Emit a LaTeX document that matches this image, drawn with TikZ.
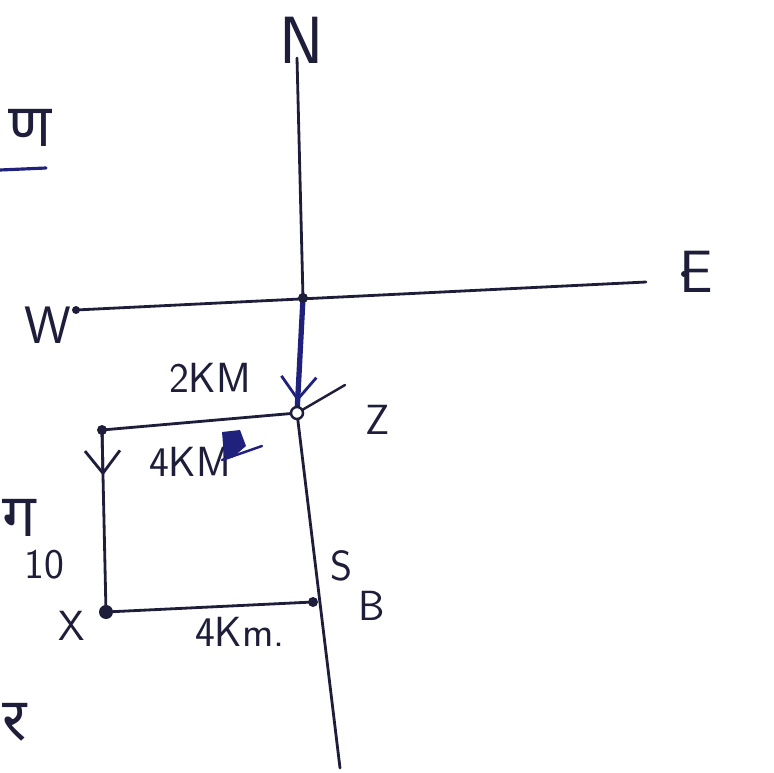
\documentclass[tikz,border=0pt]{standalone}
\usepackage{fontspec}
\newfontfamily\devfont[Script=Devanagari]{Noto Sans}
\usetikzlibrary{arrows.meta,calc}
\definecolor{ink}{RGB}{30,30,58}
\definecolor{pen}{RGB}{32,32,125}

\begin{document}
\begin{tikzpicture}[x=0.02cm,y=-0.02cm,line cap=round,
  hand/.style={font=\sffamily\fontsize{24}{24}\selectfont,text=ink,inner sep=0pt},
  dev/.style={font=\devfont\fontsize{34}{34}\selectfont,text=ink,inner sep=0pt},
  road/.style={draw=ink,line width=1.6pt},
  barb/.style={-{Straight Barb[length=4.5mm,width=7mm,line width=1.6pt]}}]
\useasboundingbox (0,0) rectangle (774,773);
% ---- compass points ----
\coordinate (Ntop) at (297,58);
\coordinate (O) at (303,298);
\coordinate (Sbot) at (340,768);
\coordinate (Wend) at (76,310);
\coordinate (Eend) at (646,282);
% ---- walk corners ----
\coordinate (Z) at (297,413);
\coordinate (A) at (102,430);
\coordinate (X) at (106,612);
\coordinate (B) at (313,602);
% ---- axes ----
\draw[road] (Ntop) -- (O);
\draw[road] (Wend) -- (Eend);
\draw[road] (Z) -- (Sbot);
\fill[ink] (Wend) circle (4);
\fill[ink] (Eend) ++(38,-8) circle (3);
% ---- path of the walk ----
\draw[draw=pen,line width=3pt] (O) -- (Z);
\draw[draw=pen,line width=1.6pt,barb] (O) -- ($(O)!0.9!(Z)$);
\draw[road] (Z) -- (A) -- (X) -- (B);
\draw[road,barb] (A) -- ($(A)!0.25!(X)$);
\draw[draw=ink,line width=1.4pt] (Z) -- (345,385);
\fill[ink] (O) circle (5);
\draw[draw=ink,line width=1.4pt,fill=white] (Z) circle (6);
\fill[ink] (A) circle (5);
\fill[ink] (X) circle (7);
\fill[ink] (B) circle (5);
% ---- labels ----
\node[hand,font=\sffamily\fontsize{38}{38}\selectfont] (nN) at (302,40) {N};
\node[hand,font=\sffamily\fontsize{34}{34}\selectfont] (nE) at (696,272) {E};
\node[hand,font=\sffamily\fontsize{30}{30}\selectfont] (nW) at (48,325) {W};
\node[hand] (n2km) at (210,378) {2KM};
\node[hand] (nZ) at (378,420) {Z};
\node[hand] (n4kmA) at (190,462) {4KM};
\node[hand] (n10) at (44,565) {10};
\node[hand] (nX) at (72,626) {X};
\node[hand] (nS) at (342,566) {S};
\node[hand] (nB) at (372,606) {B};
\node[hand] (n4kmB) at (240,632) {4Km.};
% ---- scribbled mark ----
\fill[pen] (222,432) -- (240,430) -- (246,446) -- (232,458) -- (224,456) -- cycle;
\draw[draw=pen,line width=1.4pt] (222,460) -- (262,446);
% ---- page fragments at left edge ----
\node[dev] (dNa) at (30,128) {ण};
\draw[draw=pen,line width=1.8pt] (0,170) -- (46,168);
\node[dev,anchor=west] (dGa) at (2,518) {ग};
\node[dev,anchor=west] (dRa) at (2,722) {र};
\end{tikzpicture}
\end{document}
